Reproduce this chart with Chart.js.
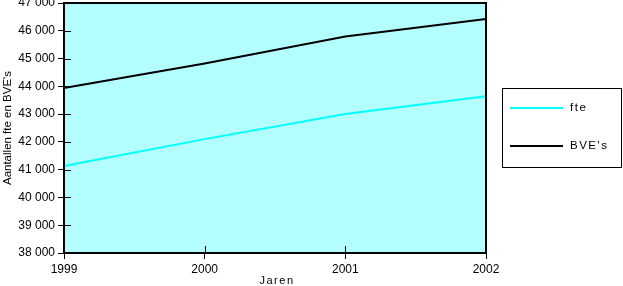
<!DOCTYPE html>
<html>
<head>
<meta charset="utf-8">
<script src="https://cdn.jsdelivr.net/npm/chart.js@4"></script>
<style>
    html, body { margin: 0; padding: 0; background: #fff; }
    #wrap { width: 623px; height: 286px; position: relative; }
</style>
</head>
<body>
<div id="wrap"><canvas id="chart" width="623" height="286"></canvas></div>
<script>
// --- Dados ---
const years = ['1999', '2000', '2001', '2002'];
const fteValues = [41130, 42100, 43000, 43640];
const bveValues = [43940, 44820, 45790, 46420];
const seriesLabels = ['fte', "BVE's"];
const yTitle = "Aantallen fte en BVE's";
const xTitle = 'Jaren';

const FONT = "'Liberation Sans', Arial, sans-serif";

// fundo da área do gráfico + marcas internas + borda
const plotDecor = {
    id: 'plotDecor',
    beforeDatasetsDraw(chart) {
        const { ctx, chartArea: a } = chart;
        ctx.save();
        ctx.fillStyle = '#b3ffff';
        ctx.fillRect(a.left, a.top, a.right - a.left, a.bottom - a.top);
        ctx.strokeStyle = '#000';
        ctx.lineWidth = 1;
        ctx.beginPath();
        chart.scales.y.ticks.forEach(t => {
            const y = Math.round(chart.scales.y.getPixelForValue(t.value)) + 0.5;
            ctx.moveTo(a.left, y);
            ctx.lineTo(a.left + 7, y);
        });
        years.forEach((c, i) => {
            const x = Math.round(chart.scales.x.getPixelForValue(i)) + 0.5;
            ctx.moveTo(x, a.bottom);
            ctx.lineTo(x, a.bottom - 7);
        });
        ctx.stroke();
        ctx.restore();
    },
    afterDraw(chart) {
        const { ctx, chartArea: a } = chart;
        ctx.save();
        ctx.strokeStyle = '#000';
        ctx.lineWidth = 2;
        ctx.strokeRect(a.left, a.top, a.right - a.left, a.bottom - a.top);

        // título do eixo X com espaçamento entre letras
        ctx.fillStyle = '#000';
        ctx.font = '11px ' + FONT;
        ctx.letterSpacing = '1.5px';
        ctx.textAlign = 'center';
        ctx.textBaseline = 'middle';
        ctx.fillText(xTitle, (a.left + a.right) / 2 + 2, 281);

        // legenda
        const box = { x: 502.5, y: 88.5, w: 119, h: 79 };
        ctx.fillStyle = '#fff';
        ctx.fillRect(box.x, box.y, box.w, box.h);
        ctx.lineWidth = 1;
        ctx.strokeStyle = '#000';
        ctx.strokeRect(box.x, box.y, box.w, box.h);
        ctx.textAlign = 'left';
        ctx.font = '11.5px ' + FONT;
        const rows = [108, 146];
        chart.data.datasets.forEach((ds, i) => {
            ctx.strokeStyle = ds.borderColor;
            ctx.lineWidth = 2;
            ctx.beginPath();
            ctx.moveTo(510, rows[i]);
            ctx.lineTo(563, rows[i]);
            ctx.stroke();
            ctx.fillStyle = '#000';
            ctx.fillText(ds.label, 570, rows[i]);
        });
        ctx.restore();
    }
};

const chart = new Chart(document.getElementById('chart'), {
    type: 'line',
    data: {
        labels: years,
        datasets: [
            {
                label: seriesLabels[0],
                data: fteValues,
                borderColor: '#00ffff',
                borderWidth: 2,
                pointRadius: 0,
                tension: 0,
                fill: false
            },
            {
                label: seriesLabels[1],
                data: bveValues,
                borderColor: '#000000',
                borderWidth: 2,
                pointRadius: 0,
                tension: 0,
                fill: false
            }
        ]
    },
    options: {
        responsive: false,
        animation: false,
        layout: { padding: { left: 0, right: 137, top: 3, bottom: 0 } },
        plugins: {
            legend: { display: false },
            tooltip: { enabled: false }
        },
        scales: {
            x: {
                offset: false,
                afterFit: s => { s.height = 33; },
                grid: { drawOnChartArea: false, tickLength: 6, color: '#000', lineWidth: 1 },
                border: { display: true, color: '#000', width: 2 },
                ticks: {
                    color: '#000',
                    padding: 3,
                    maxRotation: 0,
                    font: { family: FONT, size: 12 }
                },
                title: { display: false }
            },
            y: {
                min: 38000,
                max: 47000,
                afterFit: s => { s.width = 64; s.paddingTop = 0; s.paddingBottom = 0; },
                grid: { drawOnChartArea: false, tickLength: 6, color: '#000', lineWidth: 1 },
                border: { display: true, color: '#000', width: 2 },
                ticks: {
                    stepSize: 1000,
                    color: '#000',
                    padding: 3,
                    font: { family: FONT, size: 12 },
                    callback: v => String(v).replace(/\B(?=(\d{3})+(?!\d))/g, ' ')
                },
                title: {
                    display: true,
                    text: yTitle,
                    color: '#000',
                    padding: { top: 1, bottom: 0 },
                    font: { family: FONT, size: 11.5 }
                }
            }
        }
    },
    plugins: [plotDecor]
});
</script>
</body>
</html>
